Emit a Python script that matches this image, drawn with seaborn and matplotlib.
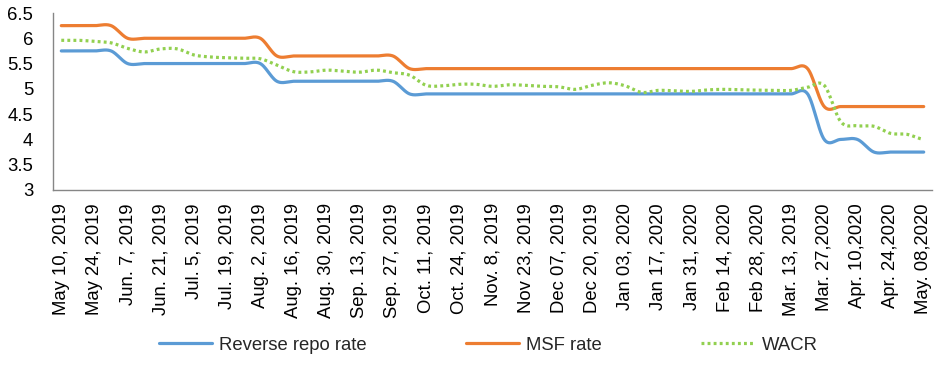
import numpy as np
import pandas as pd
import matplotlib
matplotlib.use("Agg")
import matplotlib.pyplot as plt
import seaborn as sns

dates = ["May 10, 2019", "May 24, 2019", "Jun. 7, 2019", "Jun. 21, 2019", "Jul. 5, 2019",
         "Jul. 19, 2019", "Aug. 2, 2019", "Aug. 16, 2019", "Aug. 30, 2019", "Sep. 13, 2019",
         "Sep. 27, 2019", "Oct. 11, 2019", "Oct. 24, 2019", "Nov. 8, 2019", "Nov 23, 2019",
         "Dec 07, 2019", "Dec 20, 2019", "Jan 03, 2020", "Jan 17, 2020", "Jan 31, 2020",
         "Feb 14, 2020", "Feb 28, 2020", "Mar. 13, 2019", "Mar. 27,2020", "Apr. 10,2020",
         "Apr. 24,2020", "May. 08,2020"]

reverse_repo = [5.75, 5.75, 5.75, 5.75, 5.5, 5.5, 5.5, 5.5, 5.5, 5.5,
                5.5, 5.5, 5.5, 5.15, 5.15, 5.15, 5.15, 5.15, 5.15, 5.15,
                5.15, 4.9, 4.9, 4.9, 4.9, 4.9, 4.9, 4.9, 4.9, 4.9,
                4.9, 4.9, 4.9, 4.9, 4.9, 4.9, 4.9, 4.9, 4.9, 4.9,
                4.9, 4.9, 4.9, 4.9, 4.9, 4.9, 4.0, 4.0, 4.0, 3.75,
                3.75, 3.75, 3.75]

msf_rate = [6.25, 6.25, 6.25, 6.25, 6.0, 6.0, 6.0, 6.0, 6.0, 6.0,
            6.0, 6.0, 6.0, 5.65, 5.65, 5.65, 5.65, 5.65, 5.65, 5.65,
            5.65, 5.4, 5.4, 5.4, 5.4, 5.4, 5.4, 5.4, 5.4, 5.4,
            5.4, 5.4, 5.4, 5.4, 5.4, 5.4, 5.4, 5.4, 5.4, 5.4,
            5.4, 5.4, 5.4, 5.4, 5.4, 5.4, 4.65, 4.65, 4.65, 4.65,
            4.65, 4.65, 4.65]

wacr = [5.96, 5.96, 5.94, 5.91, 5.80, 5.73, 5.79, 5.79, 5.67, 5.63,
        5.615, 5.605, 5.595, 5.47, 5.34, 5.335, 5.37, 5.35, 5.33, 5.37,
        5.32, 5.27, 5.07, 5.06, 5.09, 5.09, 5.05, 5.08, 5.07, 5.05,
        5.04, 4.99, 5.07, 5.12, 5.06, 4.93, 4.97, 4.96, 4.95, 4.98,
        4.99, 4.98, 4.975, 4.97, 4.97, 5.03, 5.07, 4.35, 4.27, 4.26,
        4.12, 4.10, 4.00]

series_names = ["Reverse repo rate", "MSF rate", "WACR"]
colors = ["#5B9BD5", "#ED7D31", "#92D050"]


def smooth(vals, steps=24):
    """Catmull-Rom (Excel-style smoothed line) through the weekly points."""
    p = np.asarray(vals, dtype=float)
    n = len(p)
    xs, ys = [], []
    for i in range(n - 1):
        p0 = p[i - 1] if i > 0 else p[i]
        p1, p2 = p[i], p[i + 1]
        p3 = p[i + 2] if i + 2 < n else p[i + 1]
        b1 = p1 + (p2 - p0) / 6.0
        b2 = p2 - (p3 - p1) / 6.0
        t = np.linspace(0, 1, steps, endpoint=(i == n - 2))
        y = ((1 - t) ** 3 * p1 + 3 * (1 - t) ** 2 * t * b1
             + 3 * (1 - t) * t ** 2 * b2 + t ** 3 * p2)
        xs.append(i + t)
        ys.append(y)
    return np.concatenate(xs), np.concatenate(ys)


sns.set_theme(style="white")
plt.rcParams["font.family"] = ["Liberation Sans", "DejaVu Sans"]

fig = plt.figure(figsize=(9.49, 3.70), dpi=100)
ax = fig.add_axes([53 / 949, 1 - 190 / 370, (932 - 53) / 949, (190 - 13) / 370])

styles = ["-", "-", (0, (0.9, 1.0))]
for name, vals, c, ls in zip(series_names, [reverse_repo, msf_rate, wacr], colors, styles):
    xs, ys = smooth(vals)
    df = pd.DataFrame({"x": xs, "y": ys})
    sns.lineplot(data=df, x="x", y="y", ax=ax, color=c, lw=2.3, linestyle=ls,
                 label=name, sort=False, estimator=None)

ax.set_xlim(-0.5, len(reverse_repo) - 0.5)
ax.set_ylim(3, 6.5)
ax.set_yticks([3, 3.5, 4, 4.5, 5, 5.5, 6, 6.5])
ax.set_yticklabels(["3", "3.5", "4", "4.5", "5", "5.5", "6", "6.5"])
ax.set_xticks(np.arange(0, len(reverse_repo), 2))
ax.set_xticklabels(dates, rotation=90, ha="center", va="top")
ax.set_xticks(np.arange(-0.5, len(reverse_repo), 1), minor=True)
ax.set_xlabel("")
ax.set_ylabel("")

gray = "#868686"
for side in ["top", "right"]:
    ax.spines[side].set_visible(False)
for side in ["left", "bottom"]:
    ax.spines[side].set_color(gray)
    ax.spines[side].set_linewidth(1.0)

ax.tick_params(axis="x", which="major", length=0, pad=9.5, labelsize=13.3, colors="black")
ax.tick_params(axis="x", which="minor", length=3.8, width=1.0, color=gray, direction="out")
ax.tick_params(axis="y", length=4.3, width=1.0, color=gray, direction="out", pad=10,
               labelsize=13.3, labelcolor="black")
ax.grid(False)

ax.legend(loc="center", bbox_to_anchor=(488 / 949, 1 - 345 / 370),
          bbox_transform=fig.transFigure, ncol=3, frameon=False,
          fontsize=13.3, handlelength=2.9, handletextpad=0.35, columnspacing=5.4)

fig.savefig("out.png", dpi=100)
